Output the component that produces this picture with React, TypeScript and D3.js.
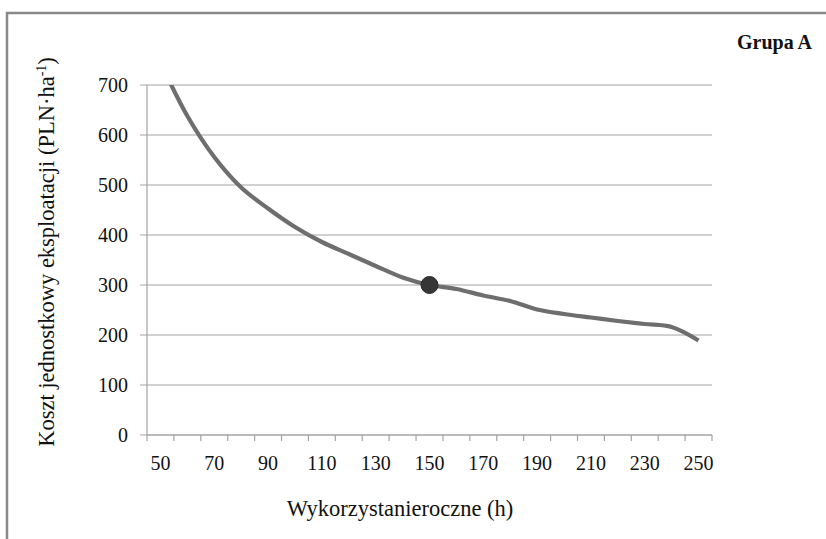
import React from "react";
import * as d3 from "d3";

const hours = [50, 60, 70, 80, 90, 100, 110, 120, 130, 140, 150, 160, 170, 180, 190, 200, 210, 220, 230, 240, 250];
const cost = [745, 638, 556, 495, 453, 416, 386, 362, 338, 315, 300, 292, 279, 268, 251, 242, 235, 228, 222, 216, 189];
const yTicks = [0, 100, 200, 300, 400, 500, 600, 700];
const xLabels = [50, 70, 90, 110, 130, 150, 170, 190, 210, 230, 250];
const highlightHour = 150;
const highlightCost = 300;

const W = 826;
const H = 539;
const left = 147;
const right = 712;
const top = 85;
const bottom = 435;
const font = "'Liberation Serif', 'Times New Roman', serif";

export default function App() {
  const x = d3.scaleBand<number>().domain(hours).range([left, right]).paddingInner(0).paddingOuter(0);
  const y = d3.scaleLinear().domain([0, 700]).range([bottom, top]);
  const cx = (h: number) => (x(h) as number) + x.bandwidth() / 2;
  const pts: [number, number][] = hours.map((h, i) => [cx(h), y(cost[i])]);
  const line = d3.line<[number, number]>().x((d) => d[0]).y((d) => d[1]).curve(d3.curveCatmullRom.alpha(0.5));
  const boundaries = [...hours.map((h) => x(h) as number), right];

  return (
    <svg width={W} height={H} style={{ position: "absolute", left: 0, top: 0, background: "#fff" }}>
      <defs>
        <clipPath id="plotclip">
          <rect x={left} y={top} width={right - left + 10} height={bottom - top + 20} />
        </clipPath>
      </defs>
      <rect x={7} y={13} width={W + 20} height={H + 20} fill="none" stroke="#8a8a8a" strokeWidth={2.5} />
      {yTicks.map((t) => (
        <g key={t}>
          <line x1={left - 7} x2={right} y1={y(t)} y2={y(t)} stroke="#a3a3a3" strokeWidth={1.2} />
          <text x={128} y={y(t)} dy="0.35em" textAnchor="end" fontFamily={font} fontSize={20} fill="#111">
            {t}
          </text>
        </g>
      ))}
      <line x1={left} x2={left} y1={top} y2={bottom} stroke="#a3a3a3" strokeWidth={1.2} />
      <line x1={left} x2={right} y1={bottom} y2={bottom} stroke="#a3a3a3" strokeWidth={1.2} />
      {boundaries.map((b, i) => (
        <line key={i} x1={b} x2={b} y1={bottom} y2={bottom + 6} stroke="#a3a3a3" strokeWidth={1.2} />
      ))}
      {xLabels.map((h) => (
        <text key={h} x={cx(h)} y={470} textAnchor="middle" fontFamily={font} fontSize={20} fill="#111">
          {h}
        </text>
      ))}
      <g clipPath="url(#plotclip)">
        <path d={line(pts) || ""} fill="none" stroke="#6e6e6e" strokeWidth={4.2} strokeLinejoin="round" />
      </g>
      <circle cx={cx(highlightHour)} cy={y(highlightCost)} r={8.5} fill="#363636" stroke="#2a2a2a" strokeWidth={1} />
      <text x={400} y={516} textAnchor="middle" fontFamily={font} fontSize={22.5} fill="#111">
        Wykorzystanieroczne (h)
      </text>
      <text
        transform={`translate(54, 252) rotate(-90)`}
        textAnchor="middle"
        fontFamily={font}
        fontSize={22.5}
        fill="#111"
      >
        Koszt jednostkowy eksploatacji (PLN·ha
        <tspan fontSize={14} dy={-8}>-1</tspan>
        <tspan dy={8}>)</tspan>
      </text>
      <text x={737} y={49} fontFamily={font} fontSize={20} fontWeight="bold" fill="#111">
        Grupa A
      </text>
    </svg>
  );
}
